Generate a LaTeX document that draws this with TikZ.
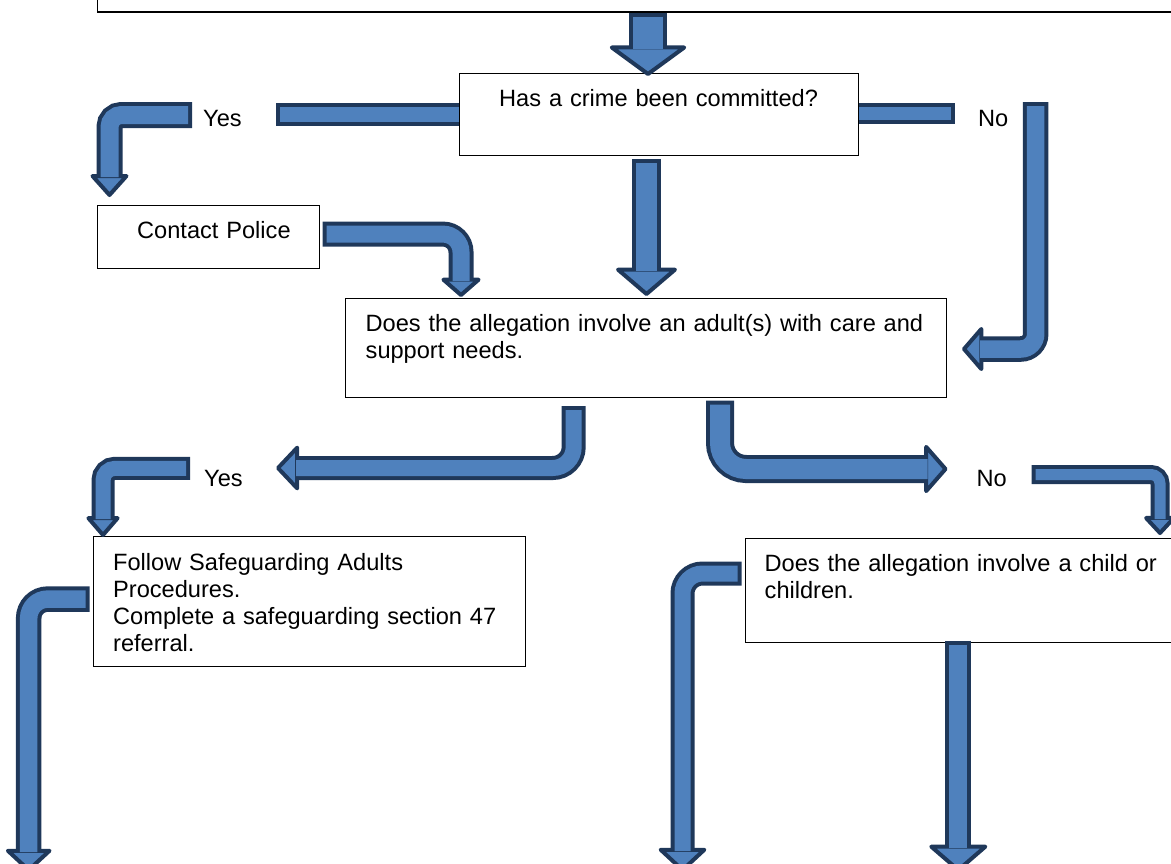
\documentclass[tikz,border=0pt]{standalone}
\usepackage{fontspec}
\setmainfont{Liberation Sans}
\usetikzlibrary{arrows.meta, positioning, calc}
\definecolor{arrowblue}{RGB}{79,129,189}
\definecolor{arrowline}{RGB}{31,56,90}
\tikzset{
  box/.style={draw=black, line width=1.2pt, inner sep=0pt, anchor=north west}, % plain boxes
  txt/.style={inner sep=0pt, anchor=base west, text width=600pt, align=left,
    font=\fontsize{23.6}{27}\selectfont},
  % block arrow: outer width, head width, head length
  blk/.style n args={3}{draw=arrowblue, line width=#1pt-8pt, shorten >=#3pt-4pt,
    preaction={draw=arrowline, line width=#1pt, shorten >=0pt, shorten <=-4pt,
      -{Triangle[width=#2pt+8pt, length=#3pt, fill=arrowblue, line width=4pt, round]}}},
  % block bar without head: outer width
  bar/.style={draw=arrowblue, line width=#1pt-8pt,
    preaction={draw=arrowline, line width=#1pt, shorten >=-4pt}},
}
\begin{document}
\begin{tikzpicture}[x=1pt, y=-1pt]
  \useasboundingbox (0,0) rectangle (1171,863);
  \clip (0,0) rectangle (1171,863);

  % boxes
  \node[box, anchor=south west, minimum width=1100pt, minimum height=40pt] (top) at (96.5,12.5) {};
  \node[box, minimum width=399pt, minimum height=82pt] (crime) at (459,73) {};
  \node[box, minimum width=222.5pt, minimum height=63pt] (police) at (96.5,205) {};
  \node[box, minimum width=601pt, minimum height=99pt] (adult) at (344.5,298) {};
  \node[box, minimum width=432.5pt, minimum height=130pt] (follow) at (92.5,536) {};
  \node[box, minimum width=500pt, minimum height=104.5pt] (child) at (744.5,537.5) {};

  % texts
  \node[txt] (crimetxt) at ([shift={(40,33)}]crime.north west) {Has a crime been committed?};
  \node[txt] (policetxt) at ([shift={(40.5,33)}]police.north west) {Contact Police};
  \node[txt] (adulttxt) at ([shift={(21,33)}]adult.north west)
    {Does the allegation involve an adult(s) with care and\\support needs.};
  \node[txt] (followtxt) at ([shift={(20.5,34)}]follow.north west)
    {Follow Safeguarding Adults\\Procedures.\\Complete a safeguarding section 47\\referral.};
  \node[txt] (childtxt) at ([shift={(20,33.5)}]child.north west)
    {Does the allegation involve a child or\\children.};
  \node[txt] (yes1) at (203,126) {Yes};
  \node[txt] (no1) at (978,126) {No};
  \node[txt] (yes2) at (204,486) {Yes};
  \node[txt] (no2) at (976.5,486) {No};

  % free ends of the arrows
  \coordinate (toptip) at (648,76);
  \coordinate (yesbar) at (279.5,114.5);
  \coordinate (yestail) at (188,115);
  \coordinate (yestip) at (109.5,197);
  \coordinate (nobar) at (951,113);
  \coordinate (notail) at (1035.7,106);
  \coordinate (notip) at (962,349);
  \coordinate (crimetip) at (646.5,296);
  \coordinate (policetip) at (461,297);
  \coordinate (adultyes) at (573.7,410);
  \coordinate (adultyestip) at (276,468);
  \coordinate (yestwotail) at (186,468.3);
  \coordinate (yestwotip) at (103,537);
  \coordinate (adultno) at (720,404.7);
  \coordinate (adultnotip) at (947.5,469);
  \coordinate (notwotail) at (1035.6,474.5);
  \coordinate (notwotip) at (1160,535);
  \coordinate (followtip) at (28.7,872);
  \coordinate (childtip) at (682.5,872);
  \coordinate (childdown) at (958.3,644.7);
  \coordinate (childdowntip) at (958.3,872);

  % arrows
  \draw[blk={38}{76}{31}] ($(top.south -| toptip)+(0,4)$) -- (toptip);
  \draw[bar=23] (crime.west |- yesbar) -- (yesbar);
  \draw[blk={26}{34}{24}, rounded corners=12pt] (yestail) -| (yestip);
  \draw[bar=21] (crime.east |- nobar) -- (nobar);
  \draw[blk={25.5}{42}{22}, rounded corners=15pt] (notail) |- (notip);
  \draw[blk={29.5}{59}{29}] ($(crime.south -| crimetip)+(0,7)$) -- (crimetip);
  \draw[blk={25}{37}{20}, rounded corners=18pt] ($(police.east)+(6.5,-3)$) -| (policetip);
  \draw[blk={24}{42}{24}, rounded corners=21pt] (adultyes) |- (adultyestip);
  \draw[blk={23}{29}{22}, rounded corners=12pt] (yestwotail) -| (yestwotip);
  \draw[blk={28}{46}{24}, rounded corners=26pt] (adultno) |- (adultnotip);
  \draw[blk={19}{28}{20}, rounded corners=9pt] (notwotail) -| (notwotip);
  \draw[blk={25.5}{43}{24}, rounded corners=19pt] ($(follow.west)+(-7,-2.5)$) -| (followtip);
  \draw[blk={24}{45}{25}, rounded corners=20pt] ($(child.north west)+(-7,36)$) -| (childtip);
  \draw[blk={26}{56}{28}] (childdown) -- (childdowntip);
\end{tikzpicture}
\end{document}
